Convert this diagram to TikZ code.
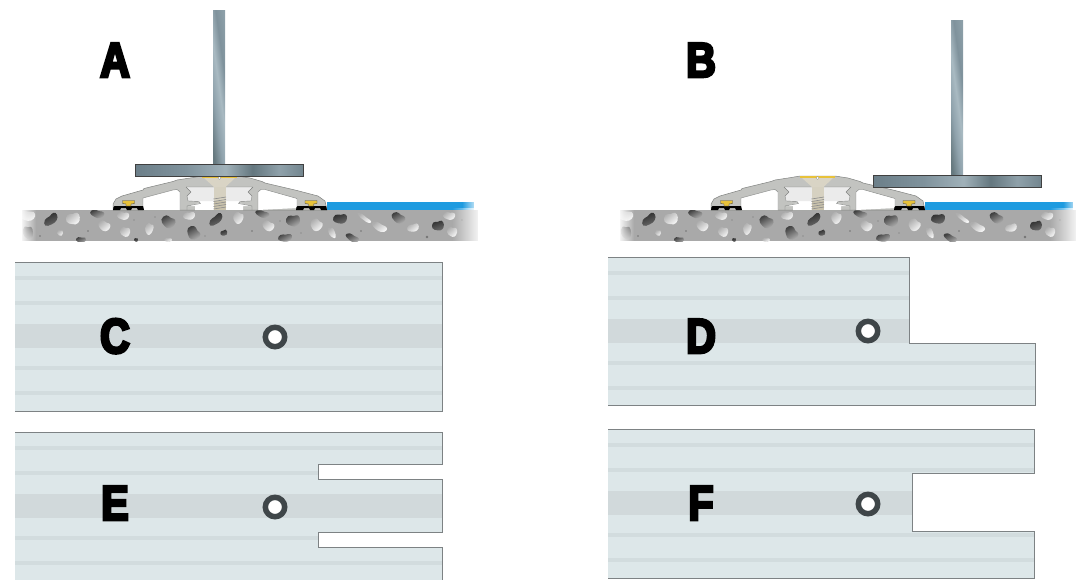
\documentclass[tikz,border=0pt]{standalone}
\usepackage{fontspec}
\newfontfamily\heavy{Liberation Sans}[BoldFeatures={FakeBold=5.5,FakeStretch=0.84}]
\usetikzlibrary{fadings}
\definecolor{panelbase}{HTML}{DDE7E9}
\definecolor{panelband}{HTML}{D2DCDE}
\definecolor{panelmid}{HTML}{D1D9DB}
\definecolor{paneledge}{HTML}{7D8284}
\definecolor{holeedge}{HTML}{3F4649}
\definecolor{alu}{HTML}{C2C3C0}
\definecolor{aluedge}{HTML}{808280}
\definecolor{concrete}{HTML}{A9A9A9}
\definecolor{bluefloor}{HTML}{1E9BE0}
\definecolor{gold}{HTML}{E8C23A}
\definecolor{screwc}{HTML}{C9C2AC}
\definecolor{sa}{HTML}{66797F}
\definecolor{sb}{HTML}{8FA2AC}
\definecolor{sc}{HTML}{A9BAC2}
\definecolor{sd}{HTML}{7F929C}
\definecolor{se}{HTML}{8C9FA8}
\definecolor{pa}{HTML}{6C7F89}
\definecolor{pb}{HTML}{7F929C}
\definecolor{pc}{HTML}{A0B1B9}
\definecolor{pd}{HTML}{64777F}
\definecolor{pe}{HTML}{8FA1AA}
\definecolor{pf}{HTML}{73868F}
\pgfdeclarehorizontalshading{steelbar}{100bp}{
 color(0bp)=(sa);color(25bp)=(sa);color(38bp)=(sb);color(50bp)=(sc);
 color(62bp)=(sd);color(75bp)=(se);color(100bp)=(se)}
\pgfdeclarehorizontalshading{steelplate}{100bp}{
 color(0bp)=(pa);color(25bp)=(pa);color(40bp)=(pb);color(52bp)=(pc);
 color(60bp)=(pd);color(68bp)=(pe);color(75bp)=(pf);color(100bp)=(pf)}
\tikzset{
 x=1pt,y=-1pt,
 letter/.style={font=\heavy\bfseries\fontsize{49}{49}\selectfont,text=black,inner sep=0pt,anchor=base},
 stem/.style={shading=steelbar,shading angle=8},
 plate/.style={shading=steelplate,draw=black!50!gray,line width=.4pt},
 lightstone/.style={left color=black!32,right color=black!3,shading angle=40},
 midstone/.style={left color=black!75,right color=black!32,shading angle=30},
 darkstone/.style={left color=black!82,right color=black!58,shading angle=20},
 pebble/.style={fill=black!55},
 panelfill/.style={fill=panelbase},
 paneloutline/.style={draw=paneledge,line width=.9pt,line join=miter},
}
% x y rx ry angle style
\newcommand{\stone}[6]{\path[#6,shift={(#1,#2)},rotate=#5]
 plot[smooth cycle,tension=.8] coordinates {(-#3,0) (-.55*#3,-.95*#4) (.2*#3,-.8*#4) (.85*#3,-.75*#4) (#3,.1*#4) (.5*#3,.9*#4) (-.3*#3,.8*#4)};}
\newcommand{\pebbleat}[3]{\fill[pebble] (#1,#2) circle (#3);}
\newcommand{\groundstrip}{%
 \fill[concrete] (22,210) rectangle (478,241);
 \begin{scope}
 \clip (22,210) rectangle (478,241);
 \stone{27}{216}{8}{5}{0}{lightstone}
 \stone{51}{220}{8}{4.5}{45}{darkstone}
 \stone{73}{219}{7}{6}{20}{lightstone}
 \stone{97}{214}{7}{4}{-10}{midstone}
 \stone{123}{216}{6}{4}{0}{lightstone}
 \stone{104}{226}{6}{5}{-20}{lightstone}
 \stone{125}{232}{5}{5}{0}{lightstone}
 \stone{149}{229}{4}{6}{-15}{lightstone}
 \stone{168}{222}{7}{6}{-20}{midstone}
 \stone{189}{216}{6}{4}{10}{lightstone}
 \stone{216}{220}{8}{4}{45}{darkstone}
 \stone{238}{218}{5}{6}{-15}{lightstone}
 \stone{193}{233}{7}{6}{-45}{midstone}
 \stone{224}{233}{3.5}{3}{30}{darkstone}
 \stone{60}{233}{3}{3}{0}{lightstone}
 \stone{28}{233}{5}{7}{10}{midstone}
 \stone{81}{240}{5}{3}{0}{midstone}
 \stone{136}{240}{2}{2}{0}{darkstone}
 \stone{168}{240}{4}{2}{0}{lightstone}
 \stone{262}{214}{7}{3.6}{-15}{midstone}
 \stone{268}{226}{6}{5}{-20}{lightstone}
 \stone{293}{221}{7}{6}{10}{midstone}
 \stone{316}{225}{6}{6}{-30}{lightstone}
 \stone{340}{219}{7}{5}{10}{darkstone}
 \stone{364}{218}{8}{2.2}{-35}{lightstone}
 \stone{379}{227}{8}{4}{-25}{lightstone}
 \stone{398}{218}{7}{5}{-25}{midstone}
 \stone{413}{228}{6}{4}{20}{lightstone}
 \stone{449}{216}{6}{4}{0}{lightstone}
 \stone{438}{226}{6}{5}{20}{darkstone}
 \stone{452}{232}{5}{5}{0}{lightstone}
 \stone{332}{233}{3}{6}{25}{lightstone}
 \stone{285}{238}{7}{4}{10}{midstone}
 \stone{352}{238}{7}{3.5}{-25}{midstone}
 \pebbleat{88}{231}{.8}\pebbleat{40}{236}{.9}\pebbleat{134}{220}{.7}\pebbleat{155}{217}{.6}
 \pebbleat{205}{236}{.6}\pebbleat{252}{231}{.8}\pebbleat{280}{221}{.7}\pebbleat{301}{233}{.6}
 \pebbleat{361}{231}{.8}\pebbleat{427}{237}{1.3}\pebbleat{462}{220}{.6}
 \end{scope}
 % fade to white at both ends
 \fill[white,path fading=east] (20,208) rectangle (36,243);
 \fill[white,path fading=west] (452,208) rectangle (482,243);
}
\newcommand{\profile}{%
 % aluminium outline
 \path[fill=alu,draw=aluedge,line width=.5pt,line join=round]
  (113,210) -- (113,204) -- (116,199) -- (122,196) -- (143,190) -- (144,188.5) -- (173,181.5)
  -- (177,180) -- (190,178) -- (202,176) -- (237,176) -- (250,178) -- (262,181.5) -- (265,183)
  -- (297,190.5) -- (318,196) -- (325,201) -- (327,210) -- cycle;
 % side cavities
 \path[fill=white,draw=aluedge,line width=.4pt,line join=round]
  (143,210) -- (143,198) -- (173,190) -- (177,189.5) -- (180,192) -- (180,210);
 \path[fill=white,draw=aluedge,line width=.4pt,line join=round]
  (258,210) -- (258,192) -- (261,189.5) -- (265,189.5) -- (297,198.5) -- (297,208);
 % central channel
 \fill[white] (187,187) -- (252,187) -- (248,192) -- (252,196) -- (251,201) -- (240,201.5)
  -- (238.5,203) -- (251,206) -- (243,206) -- (243,210) -- (195,210) -- (195,206) -- (188,206)
  -- (200,203) -- (199,201.5) -- (188,201) -- (187,196) -- (191,192) -- cycle;
 \fill[black!8] (187,187) -- (252,187) -- (248,192) -- (252,196) -- (251,201) -- (188,201) -- (187,196) -- (191,192) -- cycle;
 \draw[aluedge,line width=.4pt,line join=round] (186,187) -- (253,187) -- (248,192) -- (252,196) -- (251,201) -- (240,201.5)
  -- (238.5,203.5) -- (252,206) -- (252,210);
 \draw[aluedge,line width=.4pt,line join=round] (186,187) -- (191,192) -- (187,196) -- (188,201) -- (199,201.5)
  -- (200.5,203.5) -- (187,206) -- (187,210);
 % screw
 \fill[screwc!70!white] (204,178) -- (235,178) -- (225.5,187) -- (214,187) -- cycle;
 \fill[screwc!75!white] (214,187) rectangle (225.5,201);
 \fill[screwc] (214,201) rectangle (225.5,210);
 \foreach \ty in {198,200.5,203,205.5,208}{\draw[black!45,line width=.6pt] (213.5,\ty+1) -- (226,\ty-1);}
 \fill[gold] (202,176) rectangle (237,178);
 \fill[white,draw=aluedge,line width=.3pt] (219.5,178) circle (1.5);
 % seals
 \foreach \sx/\sa in {113/128.5,296/311}{
  \fill[black] (\sx,210) -- (\sx+.5,207) -- (\sx+1.5,206) -- (\sx+30,206) -- (\sx+31,210) -- (\sx+25,210)
   -- (\sx+24,208) -- (\sx+19,208) -- (\sx+18,210) -- (\sx+14,210) -- (\sx+13,208) -- (\sx+8,208) -- (\sx+7,210) -- cycle;
  \path[fill=gold,draw=black!70,line width=.4pt] (\sa-6,200.5) -- (\sa+6,200.5) -- (\sa+6,203.5) -- (\sa+2.5,204) -- (\sa+2.5,206) -- (\sa-2.5,206) -- (\sa-2.5,204) -- (\sa-6,203.5) -- cycle;
 }
}
\newcommand{\panelbands}[1]{%
 \foreach \bo in {16,41,106,131}{\fill[panelband] (0,#1+\bo-1.6) rectangle (1081,#1+\bo+1.6);}
 \fill[panelmid] (0,#1+62) rectangle (1081,#1+86);
}
\newcommand{\holeat}[2]{\path[fill=white,draw=holeedge,line width=5.5pt] (#1,#2) circle (9.7);}
\begin{document}
\begin{tikzpicture}
\useasboundingbox (0,0) rectangle (1081,579);
% Panel A
\fill[bluefloor] (327,202) rectangle (474,210);
\fill[white,path fading=west] (462,200) rectangle (480,211);
\groundstrip
\profile
\shade[stem] (213,10) rectangle (225,164);
\shade[plate] (135,164) rectangle (303,176);
% Panel B
\begin{scope}[shift={(598,0)}]
 \fill[bluefloor] (327,202) rectangle (475,210);
 \fill[white,path fading=west] (465,200) rectangle (482,211);
 \groundstrip
 \profile
\end{scope}
\shade[stem] (951,20) rectangle (963,175);
\shade[plate] (873,175) rectangle (1041,187);
% Panel C
\begin{scope}
 \clip (15,262) rectangle (442,411);
 \fill[panelfill] (15,262) rectangle (442,411);
 \panelbands{262}
\end{scope}
\path[paneloutline] (15,262) -- (442,262) -- (442,411) -- (15,411);
\holeat{275}{337}
% Panel D
\begin{scope}
 \clip (608,257) -- (909,257) -- (909,343) -- (1035,343) -- (1035,405.5) -- (608,405.5) -- cycle;
 \fill[panelfill] (600,250) rectangle (1040,410);
 \panelbands{257}
\end{scope}
\path[paneloutline] (608,257) -- (909,257) -- (909,343) -- (1035,343) -- (1035,405.5) -- (608,405.5);
\holeat{868}{331}
% Panel E
\begin{scope}
 \clip (15,432) -- (442,432) -- (442,464) -- (318,464) -- (318,479) -- (442,479) -- (442,532) -- (318,532) -- (318,547) -- (442,547) -- (442,581) -- (15,581) -- cycle;
 \fill[panelfill] (10,430) rectangle (445,581);
 \panelbands{432}
\end{scope}
\path[paneloutline] (15,432) -- (442,432) -- (442,464) -- (318,464) -- (318,479) -- (442,479) -- (442,532) -- (318,532) -- (318,547) -- (442,547) -- (442,581);
\holeat{275}{507}
% Panel F
\begin{scope}
 \clip (608,429) -- (1034.5,429) -- (1034.5,473.5) -- (912.5,473.5) -- (912.5,531) -- (1034.5,531) -- (1034.5,578) -- (608,578) -- cycle;
 \fill[panelfill] (600,425) rectangle (1040,579);
 \panelbands{429}
\end{scope}
\path[paneloutline] (608,429) -- (1034.5,429) -- (1034.5,473.5) -- (912.5,473.5) -- (912.5,531) -- (1034.5,531) -- (1034.5,578) -- (608,578);
\holeat{868}{504}
% Letters
\node[letter] (labelA) at (115,77) {A};
\node[letter] (labelB) at (701,77) {B};
\node[letter] (labelC) at (115,353) {C};
\node[letter] (labelD) at (701,353) {D};
\node[letter] (labelE) at (115,520) {E};
\node[letter] (labelF) at (701,520) {F};
\end{tikzpicture}
\end{document}
